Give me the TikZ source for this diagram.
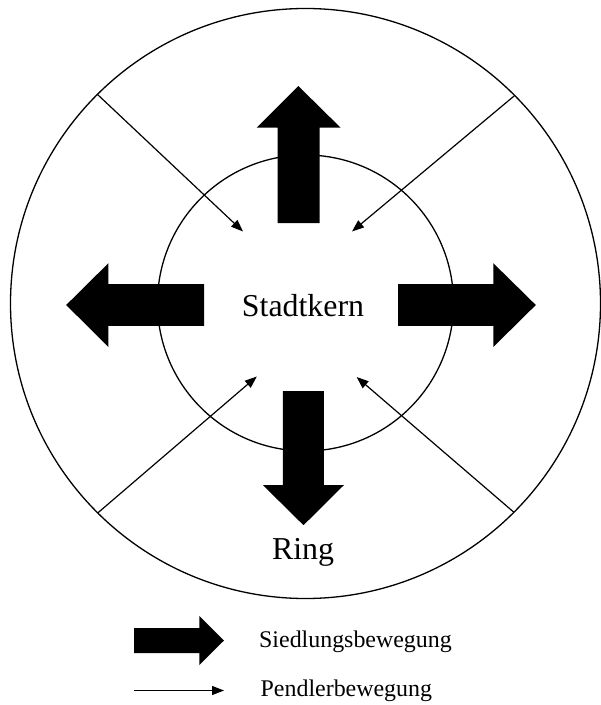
\documentclass[tikz,border=0pt]{standalone}
\usepackage{fontspec}
\setmainfont{Liberation Serif}
\usetikzlibrary{arrows.meta}
\begin{document}
\begin{tikzpicture}[x=1bp,y=-1bp,
  ringline/.style={line width=1.3bp},
  fatarrow/.style={fill=black,draw=none},
  commute/.style={line width=1.2bp,-{Triangle[length=12bp,width=9bp]}},
  bigtext/.style={font=\fontsize{32}{38}\selectfont, inner sep=0pt, anchor=base},
  legtext/.style={font=\fontsize{24}{28}\selectfont, inner sep=0pt, anchor=base west}]
\useasboundingbox (0,0) rectangle (601,705);
% circles
\coordinate (c) at (305.5,303.5);
\draw[ringline] (c) circle[radius=295];
% commuter movements
\coordinate (o1) at (97,94);
\coordinate (o2) at (514.8,95.4);
\coordinate (o3) at (97.7,513);
\coordinate (o4) at (513.6,512);
\coordinate (t1) at (243,231.5);
\coordinate (t2) at (352,231.5);
\coordinate (t3) at (256.8,376.5);
\coordinate (t4) at (356.6,377);
\draw[commute] (o1) -- (t1);
\draw[commute] (o2) -- (t2);
\draw[commute] (o3) -- (t3);
\draw[commute] (o4) -- (t4);
\draw[ringline] (305.5,303) circle[radius=148];
% settlement movements
\fill[fatarrow] (277.6,223) -- (277.6,127.7) -- (256.7,127.7) -- (298.3,86)
  -- (340.6,127.7) -- (319.5,127.7) -- (319.5,223) -- cycle;
\fill[fatarrow] (204,284) -- (108.4,284) -- (108.4,263.2) -- (66.2,305)
  -- (108.4,347) -- (108.4,325.8) -- (204,325.8) -- cycle;
\fill[fatarrow] (398,284) -- (493.3,284) -- (493.3,263.2) -- (535.8,305)
  -- (493.3,347) -- (493.3,325.8) -- (398,325.8) -- cycle;
\fill[fatarrow] (282.9,391) -- (282.9,485.2) -- (263,485.2) -- (303.5,525.2)
  -- (343.8,485.2) -- (323.9,485.2) -- (323.9,391) -- cycle;
% labels
\node[bigtext] (kern) at (303,316) {Stadtkern};
\node[bigtext] (ring) at (303,559) {Ring};
% legend
\fill[fatarrow] (134,628) -- (199.3,628) -- (199.3,616) -- (224,640.5)
  -- (199.3,665) -- (199.3,653) -- (134,653) -- cycle;
\coordinate (la) at (134,690.5);
\coordinate (lb) at (224,690.5);
\draw[commute] (la) -- (lb);
\node[legtext] (leg1) at (259,647.5) {Siedlungsbewegung};
\node[legtext] (leg2) at (260.5,696.5) {Pendlerbewegung};
\end{tikzpicture}
\end{document}
